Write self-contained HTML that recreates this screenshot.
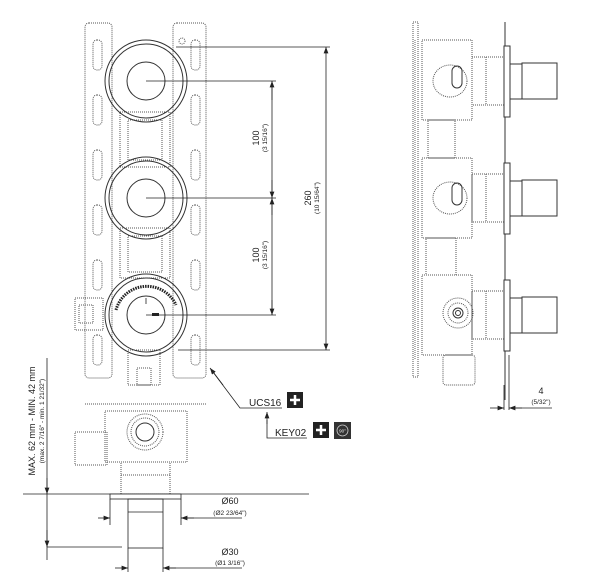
<!DOCTYPE html>
<html><head><meta charset="utf-8"><style>
html,body{margin:0;padding:0;background:#fff;}
svg{display:block;font-family:"Liberation Sans",sans-serif;}
.d{fill:none;stroke:#555;stroke-width:1;stroke-dasharray:1 1;}
.s{fill:none;stroke:#333;stroke-width:1;}
.t{fill:none;stroke:#222;stroke-width:0.8;}
text{fill:#222;}
</style></head><body>
<svg width="614" height="587" viewBox="0 0 614 587" xmlns="http://www.w3.org/2000/svg">
<defs>
<marker id="a" markerWidth="8" markerHeight="6" refX="8" refY="3" orient="auto"><path d="M0,0 L8,3 L0,6 z" fill="#222"/></marker>
</defs>
<!-- FRONT VIEW -->
<rect x="85" y="23" width="27" height="355" rx="4" class="d"/>
<rect x="173" y="23" width="33" height="355" rx="4" class="d"/>
<g class="d">
<rect x="93" y="40" width="9" height="30" rx="4"/><rect x="93" y="95" width="9" height="30" rx="4"/>
<rect x="93" y="150" width="9" height="30" rx="4"/><rect x="93" y="205" width="9" height="30" rx="4"/>
<rect x="93" y="260" width="9" height="30" rx="4"/><rect x="93" y="335" width="9" height="30" rx="4"/>
<rect x="191" y="40" width="9" height="30" rx="4"/><rect x="191" y="95" width="9" height="30" rx="4"/>
<rect x="191" y="150" width="9" height="30" rx="4"/><rect x="191" y="205" width="9" height="30" rx="4"/>
<rect x="191" y="260" width="9" height="30" rx="4"/><rect x="191" y="335" width="9" height="30" rx="4"/>
<circle cx="182" cy="41" r="3"/>
<rect x="120" y="112" width="50" height="55"/><rect x="128" y="120" width="34" height="40"/>
<rect x="120" y="228" width="50" height="50"/><rect x="128" y="236" width="34" height="36"/>
<rect x="75" y="298" width="28" height="32"/><rect x="79" y="305" width="14" height="18"/>
<rect x="128" y="350" width="32" height="35"/><rect x="137" y="368" width="14" height="17"/>
</g>
<g fill="#fff">
<circle cx="146" cy="81" r="41" class="s" stroke-dasharray="0"/><circle cx="146" cy="81" r="37" class="s"/><circle cx="146" cy="81" r="19" class="s"/>
<circle cx="146" cy="198" r="41" class="s"/><circle cx="146" cy="198" r="37" class="s"/><circle cx="146" cy="198" r="19" class="s"/>
<circle cx="146" cy="315" r="41" class="s"/><circle cx="146" cy="315" r="37" class="s"/><circle cx="146" cy="315" r="19" class="s"/>
</g>
<path d="M116,310 A32,32 0 0 1 176,305" fill="none" stroke="#222" stroke-width="3" stroke-dasharray="1.5 1"/>
<line x1="146" y1="298" x2="146" y2="304" class="t"/>
<rect x="152" y="313" width="7" height="3" fill="#222"/>
<!-- dims -->
<g class="t">
<line x1="176" y1="47" x2="330" y2="47"/><line x1="178" y1="350" x2="330" y2="350"/>
<line x1="146" y1="81" x2="276" y2="81"/><line x1="146" y1="198" x2="276" y2="198"/><line x1="146" y1="315" x2="276" y2="315"/>
<line x1="326" y1="60" x2="326" y2="47" marker-end="url(#a)"/><line x1="326" y1="330" x2="326" y2="350" marker-end="url(#a)"/><line x1="326" y1="60" x2="326" y2="330"/>
<line x1="272" y1="81" x2="272" y2="315"/>
<line x1="272" y1="100" x2="272" y2="81" marker-end="url(#a)"/><line x1="272" y1="180" x2="272" y2="198" marker-end="url(#a)"/>
<line x1="272" y1="215" x2="272" y2="198" marker-end="url(#a)"/><line x1="272" y1="300" x2="272" y2="315" marker-end="url(#a)"/>
</g>
<text transform="translate(259,138) rotate(-90)" font-size="9" text-anchor="middle">100</text>
<text transform="translate(267,138) rotate(-90)" font-size="6.5" text-anchor="middle">(3 15/16")</text>
<text transform="translate(259,255) rotate(-90)" font-size="9" text-anchor="middle">100</text>
<text transform="translate(267,255) rotate(-90)" font-size="6.5" text-anchor="middle">(3 15/16")</text>
<text transform="translate(311,198) rotate(-90)" font-size="9" text-anchor="middle">260</text>
<text transform="translate(319,198) rotate(-90)" font-size="6.5" text-anchor="middle">(10 15/64")</text>
<!-- SIDE VIEW -->
<rect x="413" y="22" width="5" height="355" class="d"/>
<line x1="415" y1="40" x2="415" y2="360" stroke="#666" stroke-dasharray="1 1"/>
<line x1="505" y1="22" x2="505" y2="400" class="s"/>
<g class="d">
<rect x="422" y="40" width="50" height="80"/><rect x="428" y="120" width="27" height="38"/>
<rect x="422" y="158" width="50" height="80"/><rect x="426" y="238" width="30" height="37"/>
<rect x="422" y="275" width="50" height="80"/><rect x="443" y="355" width="32" height="30" rx="3"/>
<rect x="472" y="57" width="32" height="48"/><line x1="486" y1="57" x2="486" y2="105"/>
<rect x="472" y="174" width="32" height="48"/><line x1="486" y1="174" x2="486" y2="222"/>
<rect x="472" y="291" width="32" height="48"/><line x1="486" y1="291" x2="486" y2="339"/>
<ellipse cx="450" cy="81" rx="17" ry="16"/><ellipse cx="450" cy="198" rx="17" ry="16"/>
<circle cx="458" cy="313" r="15"/><circle cx="458" cy="313" r="10"/>
</g>
<g class="s">
<rect x="452" y="66" width="10" height="22" rx="5"/><rect x="452" y="183" width="10" height="22" rx="5"/>
<circle cx="458" cy="313" r="5"/><circle cx="458" cy="313" r="2.5"/>
<rect x="504" y="46" width="6" height="71" fill="#fff"/><rect x="504" y="163" width="6" height="71" fill="#fff"/><rect x="504" y="280" width="6" height="71" fill="#fff"/>
<rect x="510" y="64" width="12" height="35"/><rect x="522" y="63" width="35" height="36"/>
<rect x="510" y="181" width="12" height="35"/><rect x="522" y="180" width="35" height="36"/>
<rect x="510" y="298" width="12" height="35"/><rect x="522" y="297" width="35" height="36"/>
</g>
<g class="t">
<line x1="504" y1="385" x2="504" y2="410"/><line x1="509" y1="355" x2="509" y2="410"/>
<line x1="490" y1="408" x2="504" y2="408" marker-end="url(#a)"/><line x1="522" y1="408" x2="509" y2="408" marker-end="url(#a)"/>
<line x1="509" y1="408" x2="552" y2="408"/>
</g>
<text x="541" y="394" font-size="9" text-anchor="middle">4</text>
<text x="541" y="404" font-size="6.5" text-anchor="middle">(5/32")</text>
<!-- BOTTOM VIEW -->
<g class="d">
<line x1="85" y1="404" x2="206" y2="404"/>
<rect x="105" y="411" width="82" height="51"/><rect x="75" y="432" width="32" height="33"/>
<rect x="121" y="462" width="49" height="32"/><line x1="121" y1="475" x2="170" y2="475"/>
<circle cx="145" cy="432" r="18"/><circle cx="145" cy="432" r="14"/>
</g>
<circle cx="145" cy="432" r="9" class="s"/>
<g class="t">
<line x1="23" y1="494" x2="309" y2="494"/>
<rect x="110" y="494" width="71" height="5" fill="#fff"/>
<rect x="128" y="499" width="35" height="49"/><line x1="128" y1="512" x2="163" y2="512"/>
<line x1="47" y1="358" x2="47" y2="560"/>
<line x1="47" y1="478" x2="47" y2="494" marker-end="url(#a)"/>
<line x1="47" y1="530" x2="47" y2="547" marker-end="url(#a)"/>
<line x1="47" y1="547" x2="122" y2="547"/>
<line x1="110" y1="499" x2="110" y2="525"/><line x1="181" y1="499" x2="181" y2="525"/>
<line x1="98" y1="518" x2="110" y2="518" marker-end="url(#a)"/><line x1="194" y1="518" x2="181" y2="518" marker-end="url(#a)"/><line x1="181" y1="518" x2="242" y2="518"/>
<line x1="128" y1="548" x2="128" y2="572"/><line x1="163" y1="548" x2="163" y2="572"/>
<line x1="115" y1="568" x2="128" y2="568" marker-end="url(#a)"/><line x1="176" y1="568" x2="163" y2="568" marker-end="url(#a)"/><line x1="163" y1="568" x2="242" y2="568"/>
</g>
<text transform="translate(35,421) rotate(-90)" font-size="9" text-anchor="middle">MAX. 62 mm - MIN. 42 mm</text>
<text transform="translate(44,421) rotate(-90)" font-size="6.5" text-anchor="middle">(max. 2 7/16" - min. 1 21/32")</text>
<text x="230" y="504" font-size="9" text-anchor="middle">Ø60</text>
<text x="230" y="515" font-size="6.5" text-anchor="middle">(Ø2 23/64")</text>
<text x="230" y="555" font-size="9" text-anchor="middle">Ø30</text>
<text x="230" y="565" font-size="6.5" text-anchor="middle">(Ø1 3/16")</text>
<!-- labels -->
<g class="t">
<polyline points="282,408 240,408 213,372" /><line x1="223" y1="385" x2="210" y2="368" marker-end="url(#a)"/>
<polyline points="307,438 267,438 267,420"/><line x1="267" y1="424" x2="267" y2="412" marker-end="url(#a)"/>
</g>
<text x="249" y="406" font-size="10">UCS16</text>
<text x="275" y="436" font-size="10">KEY02</text>
<rect x="287" y="392" width="16" height="16" fill="#222"/>
<path d="M295,395 v10 M290,400 h10" stroke="#fff" stroke-width="2.5"/>
<rect x="313" y="422" width="16" height="16" fill="#222"/>
<path d="M321,425 v10 M316,430 h10" stroke="#fff" stroke-width="2.5"/>
<rect x="334" y="422" width="17" height="17" fill="#333"/>
<circle cx="342.5" cy="430.5" r="5.5" fill="none" stroke="#ccc" stroke-width="0.8"/>
<text x="342.5" y="432.5" font-size="4.5" fill="#eee" style="fill:#eee" text-anchor="middle">90°</text>
</svg>
</body></html>
